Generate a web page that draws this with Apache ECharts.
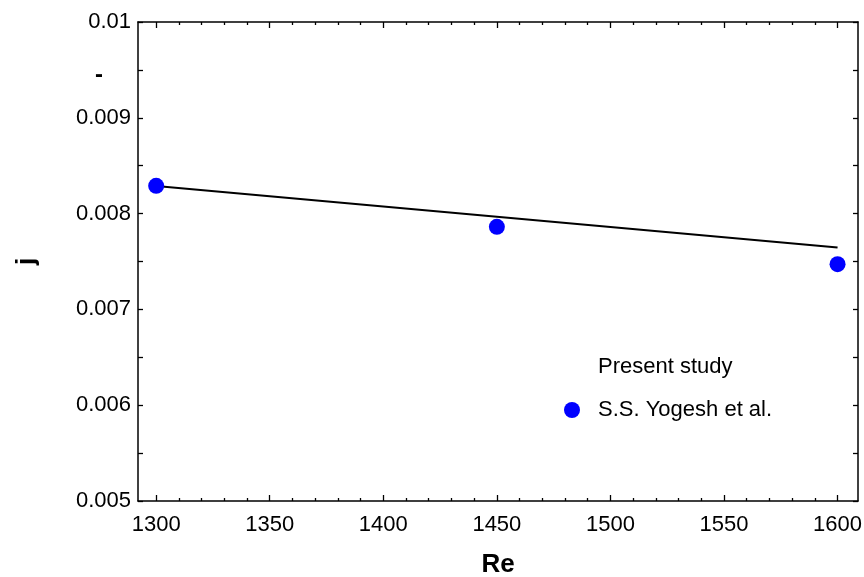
<!DOCTYPE html>
<html>
<head>
<meta charset="utf-8">
<script src="https://cdn.jsdelivr.net/npm/echarts@6/dist/echarts.min.js"></script>
<style>html,body{margin:0;padding:0;background:#fff}#c{width:864px;height:577px}</style>
</head>
<body>
<div id="c"></div>
<script>
// Data
var presentRe = [1300, 1600];
var presentJ = [0.008287, 0.007647];
var yogeshRe = [1300, 1450, 1600];
var yogeshJ = [0.00829, 0.007862, 0.007472];
var xMajorTicks = [1300, 1350, 1400, 1450, 1500, 1550, 1600];
var xMinorTicks = [1310, 1320, 1330, 1340, 1360, 1370, 1380, 1390, 1410, 1420, 1430, 1440, 1460, 1470, 1480, 1490, 1510, 1520, 1530, 1540, 1560, 1570, 1580, 1590];
var yTickLabels = {"50": "0.005", "60": "0.006", "70": "0.007", "80": "0.008", "90": "0.009", "95": "-", "100": "0.01"};

var FONT = 'Liberation Sans, Arial, sans-serif';
var chart = echarts.init(document.getElementById('c'), null, {renderer: 'canvas'});
var xMin = 1292, xMax = 1609;
function xAx(pos, ticks, len, labels, line) {
  return {
    type: 'value', position: pos, min: xMin, max: xMax,
    axisLine: {show: line, onZero: false, lineStyle: {color: '#000', width: 1.5}},
    axisTick: {show: true, inside: true, length: len, customValues: ticks, lineStyle: {color: '#000', width: 1.3}},
    axisLabel: labels ? {
      show: true, customValues: xMajorTicks, fontSize: 22, color: '#000', fontFamily: FONT, margin: 13,
      formatter: function (v) { return String(Math.round(v)); }
    } : {show: false},
    splitLine: {show: false}
  };
}
function yAx(pos, labels) {
  return {
    type: 'value', position: pos, min: 0.005, max: 0.01, interval: 0.0005,
    axisLine: {show: true, onZero: false, lineStyle: {color: '#000', width: 1.5}},
    axisTick: {show: true, inside: true, length: 5, lineStyle: {color: '#000', width: 1.3}},
    axisLabel: labels ? {
      show: true, fontSize: 22, color: '#000', fontFamily: FONT, margin: 7,
      formatter: function (v) {
        var k = String(Math.round(v * 10000));
        var t = yTickLabels[k] || '';
        return t === '-' ? '{d|-}' : t;
      },
      rich: {d: {fontSize: 24, fontWeight: 'bold', color: '#000', fontFamily: FONT, padding: [10, 28, 0, 0]}}
    } : {show: false},
    splitLine: {show: false},
    name: labels ? 'j' : '', nameLocation: 'middle', nameGap: 98,
    nameTextStyle: {fontSize: 26, fontWeight: 'bold', color: '#000', fontFamily: FONT}
  };
}
var xa0 = xAx('bottom', xMajorTicks, 6, true, true);
xa0.name = 'Re'; xa0.nameLocation = 'middle'; xa0.nameGap = 51;
xa0.nameTextStyle = {fontSize: 26, fontWeight: 'bold', color: '#000', fontFamily: FONT};
chart.setOption({
  animation: false,
  backgroundColor: '#fff',
  grid: {left: 138, right: 6, top: 22, bottom: 76, containLabel: false, outerBoundsMode: 'none'},
  xAxis: [
    xa0,
    xAx('bottom', xMinorTicks, 3, false, false),
    xAx('top', xMajorTicks, 6, false, true),
    xAx('top', xMinorTicks, 3, false, false)
  ],
  yAxis: [yAx('left', true), yAx('right', false)],
  legend: {
    orient: 'vertical', left: 559, top: 351, itemWidth: 16, itemHeight: 16, itemGap: 21,
    textStyle: {fontSize: 22, color: '#000', fontFamily: FONT, padding: [0, 0, 0, 13], lineHeight: 22},
    data: [{name: 'Present study', icon: 'none'}, {name: 'S.S. Yogesh et al.', icon: 'circle'}]
  },
  series: [
    {
      name: 'Present study', type: 'line', xAxisIndex: 0, yAxisIndex: 0,
      data: presentRe.map(function (x, i) { return [x, presentJ[i]]; }),
      showSymbol: false, symbol: 'none',
      lineStyle: {color: '#000', width: 2}, itemStyle: {color: '#000'}, z: 2
    },
    {
      name: 'S.S. Yogesh et al.', type: 'scatter', xAxisIndex: 0, yAxisIndex: 0,
      data: yogeshRe.map(function (x, i) { return [x, yogeshJ[i]]; }),
      symbol: 'circle', symbolSize: 16, itemStyle: {color: '#0000FF', opacity: 1}, z: 3
    }
  ]
});
</script>
</body>
</html>
